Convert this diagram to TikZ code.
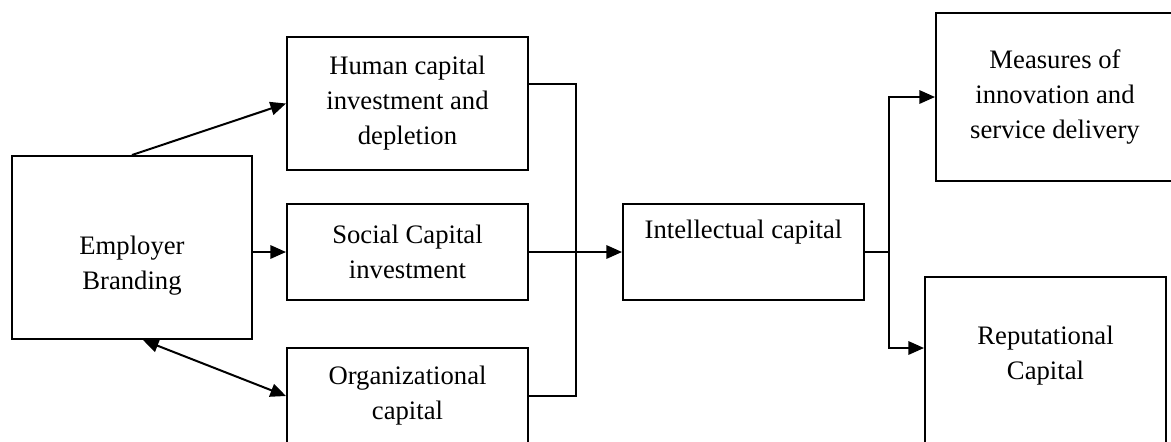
\documentclass[tikz,border=0pt]{standalone}
\usepackage{fontspec}
\setmainfont{Liberation Serif}
\usetikzlibrary{arrows.meta,calc}

\newcommand{\pxl}{0.45pt}

\tikzset{
  box/.style={draw, line width=0.9pt, inner sep=0pt, align=center, font=\fontsize{12}{15.75}\selectfont},
  txt/.style={align=center, inner sep=0pt, font=\fontsize{12}{15.75}\selectfont},
  link/.style={line width=0.9pt},
  arr/.style={link, -{Triangle[length=7pt,width=6pt]}},
  dbl/.style={link, {Triangle[length=7pt,width=6pt]}-{Triangle[length=7pt,width=6pt]}},
}

\begin{document}
\begin{tikzpicture}[x=\pxl, y=-\pxl]
\clip (0,0) rectangle (1171,441);

\node (eb) at (132,247.5) [box, minimum width=240*\pxl, minimum height=183*\pxl] {};
\node at ($(eb)+(0,18)$) [txt] {Employer\\Branding};

\node (hc) at (407.5,103.5) [box, minimum width=241*\pxl, minimum height=133*\pxl] {Human capital\\investment and\\depletion};
\node (sc) at (407.5,252) [box, minimum width=241*\pxl, minimum height=96*\pxl] {Social Capital\\investment};
\node (oc) at (407.5,396) [box, minimum width=241*\pxl, minimum height=96*\pxl] {Organizational\\capital};

\node (ic) at (743.5,252) [box, minimum width=241*\pxl, minimum height=96*\pxl] {};
\node at ($(ic)+(0,-19.5)$) [txt] {Intellectual capital};

\node (mi) at (1055,97) [box, minimum width=238*\pxl, minimum height=168*\pxl] {Measures of\\innovation and\\service delivery};
\node (rc) at (1045.5,368.5) [box, minimum width=241*\pxl, minimum height=183*\pxl] {};
\node at ($(rc)+(0,-13)$) [txt] {Reputational\\Capital};

\coordinate (jn) at (576,252);
\coordinate (br) at (889,252);

\draw[arr] (eb.north) -- (hc.west);
\draw[arr] (eb.east |- sc.west) -- (sc.west);
\draw[dbl] ($(eb.south)+(11,0)$) -- (oc.west);

\draw[link] ($(hc.east)+(0,-19.5)$) -| (jn) |- (oc.east);
\draw[arr] (sc.east) -- (ic.west);

\draw[link] (ic.east) -- (br);
\draw[arr] (br) |- (mi.west);
\draw[arr] (br) |- ($(rc.west)+(0,-20.5)$);
\end{tikzpicture}
\end{document}
